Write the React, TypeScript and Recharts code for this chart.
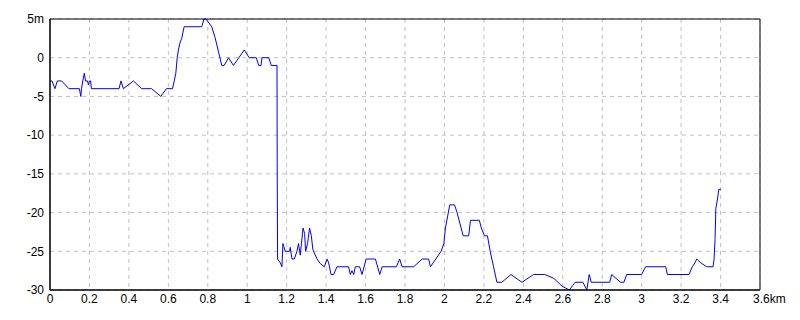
import { LineChart, Line, XAxis, YAxis, CartesianGrid, ReferenceArea } from 'recharts';

// distance along the survey line (km) and depth/elevation (m)
const distKm = [
  0, 0.01, 0.025, 0.037, 0.059, 0.096, 0.149, 0.156, 0.16, 0.166, 0.174, 0.18, 0.19, 0.195, 0.2, 0.206, 0.21,
  0.35, 0.36, 0.372, 0.423, 0.465, 0.515, 0.562, 0.59, 0.621, 0.63, 0.638, 0.645, 0.651, 0.66, 0.668, 0.68,
  0.769, 0.781, 0.791, 0.82, 0.837, 0.871, 0.883, 0.905, 0.93, 0.985, 1.01, 1.046, 1.058, 1.07, 1.075, 1.109,
  1.122, 1.151, 1.152, 1.154, 1.168, 1.176, 1.181, 1.193, 1.215, 1.218, 1.227, 1.239, 1.252, 1.26, 1.269,
  1.283, 1.291, 1.296, 1.306, 1.316, 1.325, 1.333, 1.354, 1.371, 1.391, 1.405, 1.413, 1.425, 1.438, 1.455,
  1.514, 1.523, 1.531, 1.54, 1.548, 1.57, 1.582, 1.603, 1.65, 1.672, 1.684, 1.756, 1.773, 1.785, 1.844, 1.887,
  1.92, 1.929, 1.983, 1.997, 2.005, 2.027, 2.051, 2.064, 2.095, 2.123, 2.132, 2.177, 2.187, 2.203, 2.218,
  2.232, 2.249, 2.266, 2.291, 2.337, 2.393, 2.452, 2.508, 2.555, 2.596, 2.633, 2.663, 2.702, 2.722, 2.734,
  2.744, 2.838, 2.848, 2.87, 2.893, 2.91, 2.924, 3.0, 3.02, 3.122, 3.13, 3.24, 3.257, 3.27, 3.279, 3.3, 3.33,
  3.362, 3.367, 3.372, 3.376, 3.386, 3.391, 3.402,
];

const depthM = [
  -3, -3, -4, -3, -3, -4, -4, -5, -4, -3, -2, -3, -3, -3.5, -3, -3, -4,
  -4, -3, -4, -3, -4, -4, -5, -4, -4, -3, -2, 0, 1, 2, 2.5, 4,
  4, 5, 5, 4, 2.6, -1, -1, 0, -1, 1, 0, 0, -1, -1, 0, 0,
  -1, -1, -13.5, -26, -26.5, -27, -24, -25, -25, -24.5, -26, -26, -25, -24, -25.5,
  -22, -22.7, -25, -24, -22, -23, -24.8, -26, -26.6, -27, -26, -26.5, -28, -28, -27,
  -27, -28, -27.5, -28, -27, -27, -28, -26, -26, -28, -27, -27, -26, -27, -27, -26,
  -26, -27, -25, -24, -22, -19, -19, -20, -23, -23, -21, -21, -22, -23, -23,
  -25, -27, -29, -29, -28, -29, -28, -28, -28.5, -29.5, -30, -29, -29, -30, -28,
  -29, -29, -28, -28.5, -29, -29, -28, -28, -27, -27, -28, -28, -27, -26.5, -26, -26.5, -27,
  -27, -26, -23.5, -19.5, -18, -17, -17,
];

const xTicks = [0, 0.2, 0.4, 0.6, 0.8, 1, 1.2, 1.4, 1.6, 1.8, 2, 2.2, 2.4, 2.6, 2.8, 3, 3.2, 3.4, 3.6];
const yTicks = [-30, -25, -20, -15, -10, -5, 0, 5];

const data = distKm.map((d, i) => ({ km: d, m: depthM[i] }));

const font = "'Liberation Sans Narrow', 'Liberation Sans', sans-serif";

const XTick = ({ x, y, payload }: any) => {
  const v = payload.value;
  if (v === 3.6) {
    return (
      <text x={x - 7} y={y} dy="0.71em" textAnchor="start" fontSize={12} fontFamily={font} fill="#000">
        3.6km
      </text>
    );
  }
  return (
    <text x={x} y={y} dy="0.71em" textAnchor="middle" fontSize={12} fontFamily={font} fill="#000">
      {String(v)}
    </text>
  );
};

export default function App() {
  return (
    <div style={{ position: 'absolute', left: 0, top: 0, background: '#fff' }}>
      <LineChart width={800} height={320} data={data} margin={{ top: 19, right: 40, left: 0, bottom: 0 }}>
        <CartesianGrid stroke="#c0c0c0" strokeDasharray="4 4" />
        <XAxis
          dataKey="km"
          type="number"
          domain={[0, 3.6]}
          ticks={xTicks}
          interval={0}
          height={30}
          tickLine={false}
          tickSize={0}
          tickMargin={4}
          axisLine={{ stroke: '#000' }}
          tick={<XTick />}
        />
        <YAxis
          type="number"
          domain={[-30, 5]}
          ticks={yTicks}
          interval={0}
          width={50}
          tickLine={false}
          tickSize={2}
          tickMargin={4}
          axisLine={{ stroke: '#000' }}
          tick={{ fontSize: 12, fontFamily: font, fill: '#000' }}
          tickFormatter={(v: number) => (v === 5 ? '5m' : String(v))}
        />
        <ReferenceArea x1={0} x2={3.6} y1={-30} y2={5} fill="none" stroke="#000" strokeWidth={1} />
        <Line
          type="linear"
          dataKey="m"
          stroke="#0000ff"
          strokeWidth={1}
          dot={false}
          isAnimationActive={false}
        />
      </LineChart>
    </div>
  );
}
